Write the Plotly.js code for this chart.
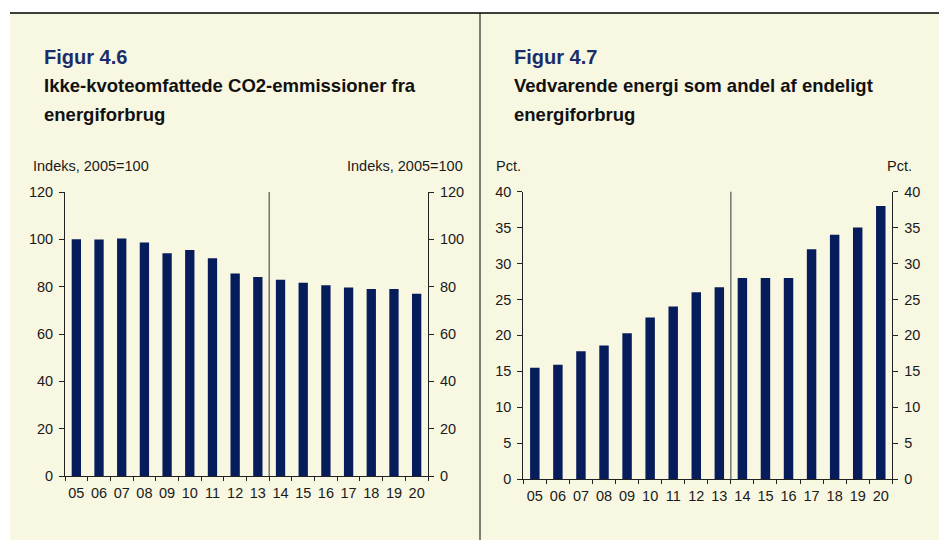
<!DOCTYPE html>
<html>
<head>
<meta charset="utf-8">
<script src="https://cdn.plot.ly/plotly-3.0.1.min.js"></script>
<style>html,body{margin:0;padding:0;background:#fff;}#chart{width:939px;height:540px;}</style>
</head>
<body>
<div id="chart"></div>
<script>
const years = ["05","06","07","08","09","10","11","12","13","14","15","16","17","18","19","20"];
const co2Index = [100, 99.9, 100.3, 98.7, 94.1, 95.5, 92.0, 85.6, 84.1, 82.9, 81.7, 80.6, 79.7, 79.0, 79.0, 77.0];
const renewableShare = [15.5, 15.9, 17.8, 18.6, 20.3, 22.5, 24.0, 26.0, 26.7, 28.0, 28.0, 28.0, 32.0, 34.0, 35.0, 38.0];
const leftTitle = "Figur 4.6";
const leftSub1 = "Ikke-kvoteomfattede CO2-emmissioner fra";
const leftSub2 = "energiforbrug";
const leftUnit = "Indeks, 2005=100";
const rightTitle = "Figur 4.7";
const rightSub1 = "Vedvarende energi som andel af endeligt";
const rightSub2 = "energiforbrug";
const rightUnit = "Pct.";
const splitBetween = 8.5; // boundary between 13 and 14

const W = 939, H = 540;
const px = v => v / W;
const py = v => 1 - v / H;
const FONT = "Liberation Sans, Arial, sans-serif";
const BAR = "#061c5b";
const BG = "#f8f7e1";
const AX = "#222222";

const tickFont = {family: FONT, size: 14.5, color: "#1a1a1a"};
const yCommon = {
  showgrid: false, zeroline: false, showline: true, linecolor: AX, linewidth: 1,
  ticks: "outside", ticklen: 5, tickcolor: AX, tickwidth: 1, tickfont: tickFont,
  fixedrange: true, ticklabelstandoff: 3
};
const xCommon = {
  type: "category", showgrid: false, zeroline: false, showline: true, linecolor: AX, linewidth: 1,
  ticks: "outside", ticklen: 4, tickcolor: AX, tickwidth: 1, tickson: "boundaries",
  tickfont: tickFont, tickangle: 0, range: [-0.5, 15.5], fixedrange: true, ticklabelstandoff: 4
};

const data = [
  {type: "bar", x: years, y: co2Index, xaxis: "x", yaxis: "y",
   marker: {color: BAR, line: {width: 0}}, hoverinfo: "skip"},
  {type: "bar", x: years, y: renewableShare, xaxis: "x2", yaxis: "y2",
   marker: {color: BAR, line: {width: 0}}, hoverinfo: "skip"},
  // empty traces so the right-hand (mirror) value axes are created
  {type: "scatter", mode: "none", x: [], y: [], xaxis: "x", yaxis: "y3", hoverinfo: "skip"},
  {type: "scatter", mode: "none", x: [], y: [], xaxis: "x2", yaxis: "y4", hoverinfo: "skip"}
];

const layout = {
  width: W, height: H,
  margin: {l: 0, r: 0, t: 0, b: 0},
  paper_bgcolor: "#ffffff",
  plot_bgcolor: "rgba(0,0,0,0)",
  showlegend: false,
  bargap: 0.59,
  xaxis: Object.assign({}, xCommon, {domain: [px(65), px(428)], anchor: "y"}),
  yaxis: Object.assign({}, yCommon, {domain: [1 - 476 / H, 1 - 192 / H], anchor: "x", range: [0, 120], dtick: 20}),
  yaxis3: Object.assign({}, yCommon, {overlaying: "y", side: "right", anchor: "x", range: [0, 120], dtick: 20}),
  xaxis2: Object.assign({}, xCommon, {domain: [px(523.3), px(892.3)], anchor: "y2"}),
  yaxis2: Object.assign({}, yCommon, {domain: [1 - 479 / H, 1 - 191.7 / H], anchor: "x2", range: [0, 40], dtick: 5}),
  yaxis4: Object.assign({}, yCommon, {overlaying: "y2", side: "right", anchor: "x2", range: [0, 40], dtick: 5}),
  shapes: [
    {type: "rect", xref: "paper", yref: "paper", x0: px(10), x1: 1, y0: 0, y1: py(13),
     fillcolor: BG, line: {width: 0}, layer: "below"},
    {type: "line", xref: "paper", yref: "paper", x0: px(10), x1: 1, y0: py(13), y1: py(13),
     line: {color: "#000", width: 1.5}},
    {type: "line", xref: "paper", yref: "paper", x0: px(480), x1: px(480), y0: 0, y1: py(13),
     line: {color: "#000", width: 1}},
    {type: "line", xref: "x", yref: "y", x0: splitBetween, x1: splitBetween, y0: 0, y1: 121.2,
     line: {color: "#555", width: 1.2}},
    {type: "line", xref: "x2", yref: "y2", x0: splitBetween, x1: splitBetween, y0: 0, y1: 40.4,
     line: {color: "#555", width: 1.2}}
  ],
  annotations: [
    {text: "<b>" + leftTitle + "</b>", x: px(42), y: py(57), xref: "paper", yref: "paper", xanchor: "left", yanchor: "middle", showarrow: false, font: {family: FONT, size: 20, color: "#1b2c6b"}},
    {text: "<b>" + leftSub1 + "</b>", x: px(42), y: py(86), xref: "paper", yref: "paper", xanchor: "left", yanchor: "middle", showarrow: false, font: {family: FONT, size: 18.5, color: "#111"}},
    {text: "<b>" + leftSub2 + "</b>", x: px(42), y: py(114), xref: "paper", yref: "paper", xanchor: "left", yanchor: "middle", showarrow: false, font: {family: FONT, size: 18.5, color: "#111"}},
    {text: leftUnit, x: px(31), y: py(166), xref: "paper", yref: "paper", xanchor: "left", yanchor: "middle", showarrow: false, font: {family: FONT, size: 14.5, color: "#1a1a1a"}},
    {text: leftUnit, x: px(465), y: py(166), xref: "paper", yref: "paper", xanchor: "right", yanchor: "middle", showarrow: false, font: {family: FONT, size: 14.5, color: "#1a1a1a"}},
    {text: "<b>" + rightTitle + "</b>", x: px(511.5), y: py(57), xref: "paper", yref: "paper", xanchor: "left", yanchor: "middle", showarrow: false, font: {family: FONT, size: 20, color: "#1b2c6b"}},
    {text: "<b>" + rightSub1 + "</b>", x: px(511.5), y: py(86), xref: "paper", yref: "paper", xanchor: "left", yanchor: "middle", showarrow: false, font: {family: FONT, size: 18.5, color: "#111"}},
    {text: "<b>" + rightSub2 + "</b>", x: px(511.5), y: py(114), xref: "paper", yref: "paper", xanchor: "left", yanchor: "middle", showarrow: false, font: {family: FONT, size: 18.5, color: "#111"}},
    {text: rightUnit, x: px(494), y: py(166), xref: "paper", yref: "paper", xanchor: "left", yanchor: "middle", showarrow: false, font: {family: FONT, size: 14.5, color: "#1a1a1a"}},
    {text: rightUnit, x: px(913.5), y: py(166), xref: "paper", yref: "paper", xanchor: "right", yanchor: "middle", showarrow: false, font: {family: FONT, size: 14.5, color: "#1a1a1a"}}
  ]
};

Plotly.newPlot("chart", data, layout, {staticPlot: true, displayModeBar: false});
</script>
</body>
</html>
